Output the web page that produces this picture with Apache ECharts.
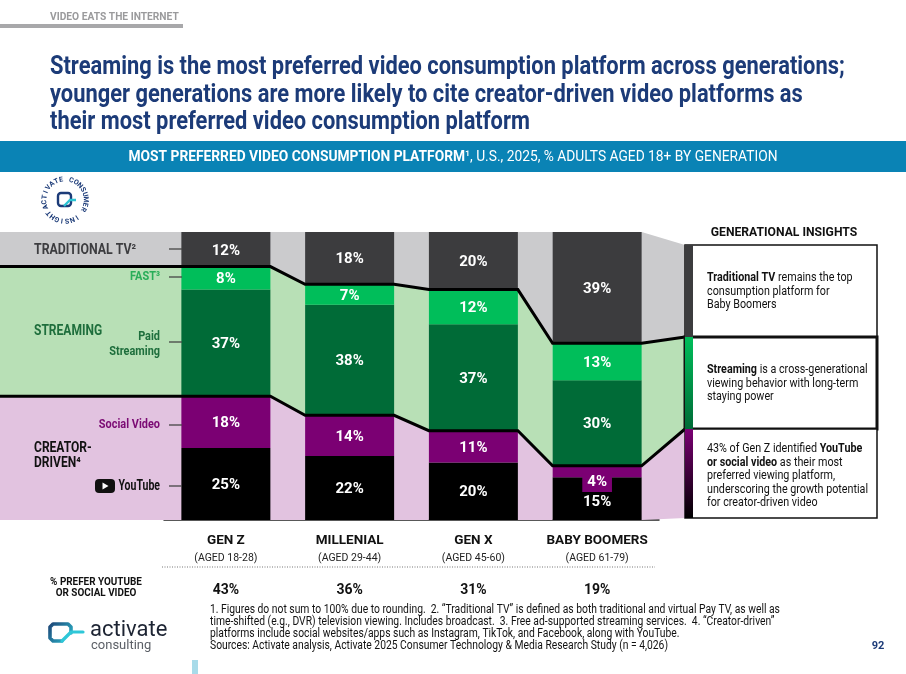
<!DOCTYPE html>
<html>
<head>
<meta charset="utf-8" />
<title>Most preferred video consumption platform</title>
<script src="https://cdn.jsdelivr.net/npm/echarts@6/dist/echarts.min.js"></script>
<style>html,body{margin:0;padding:0;background:#fff}</style>
</head>
<body>
<div id="main" style="width:906px;height:674px"></div>
<script>
// data
var generations = ['GEN Z', 'MILLENIAL', 'GEN X', 'BABY BOOMERS'];
var ageRanges = ['(AGED 18-28)', '(AGED 29-44)', '(AGED 45-60)', '(AGED 61-79)'];
var traditionalTV = [12, 18, 20, 39];
var fast = [8, 7, 12, 13];
var paidStreaming = [37, 38, 37, 30];
var socialVideo = [18, 14, 11, 4];
var youTube = [25, 22, 20, 15];
var preferYouTubeOrSocial = [43, 36, 31, 19];

var chart = echarts.init(document.getElementById('main'));
var FONT = 'Roboto';
var BAR_W = 89;
var BOX_X = 685, BOX_R = 877;
var BOX_EDGES = [245, 337, 429, 518]; // pixel tops/bottoms of the insight boxes
var navy = '#1c3b78';

// figures don't sum to 100, so each bar is scaled to full height
var totals = generations.map(function (g, i) {
  return traditionalTV[i] + fast[i] + paidStreaming[i] + socialVideo[i] + youTube[i];
});
function pct(v, i) { return v / totals[i] * 100; }
function bounds(i) {
  return [100, pct(totals[i] - traditionalTV[i], i), pct(socialVideo[i] + youTube[i], i), 0];
}

// bands behind the bars (gray / green / pink)
function bandItem(params, api) {
  var i = params.dataIndex, n = generations.length;
  var x0 = api.coord([i, 0])[0] - BAR_W / 2, x1 = x0 + BAR_W;
  var ys = bounds(i).map(function (v) { return api.coord([i, v])[1]; });
  var xe, ye;
  if (i < n - 1) {
    xe = api.coord([i + 1, 0])[0] - BAR_W / 2;
    ye = bounds(i + 1).map(function (v) { return api.coord([i + 1, v])[1]; });
  } else {
    xe = BOX_X; ye = BOX_EDGES;
  }
  var xs = i === 0 ? 0 : x0;
  var cols = ['#cbcbcd', '#b8e0b6', '#e2c3e0'];
  return {
    type: 'group',
    children: cols.map(function (c, k) {
      return {
        type: 'polygon',
        shape: { points: [[xs, ys[k]], [x1, ys[k]], [xe, ye[k]], [xe, ye[k + 1]], [x1, ys[k + 1]], [xs, ys[k + 1]]] },
        style: { fill: c }
      };
    })
  };
}

// the two thick black boundary lines, drawn once across the whole chart
function lineItem(params, api) {
  var n = generations.length;
  var kids = [1, 2].map(function (k) {
    var pts = [];
    for (var i = 0; i < n; i++) {
      var cx = api.coord([i, 0])[0];
      var y = api.coord([i, bounds(i)[k]])[1];
      if (i === 0) pts.push([0, y]);
      pts.push([cx - BAR_W / 2, y]);
      pts.push([cx + BAR_W / 2, y]);
    }
    pts.push([BOX_X, BOX_EDGES[k]]);
    return { type: 'polyline', shape: { points: pts }, style: { stroke: '#000', lineWidth: 3, fill: null, lineJoin: 'miter' } };
  });
  return { type: 'group', children: kids };
}

var segs = [
  { data: youTube, color: '#000000' },
  { data: socialVideo, color: '#7b0073' },
  { data: paidStreaming, color: '#006b37' },
  { data: fast, color: '#00be5a' },
  { data: traditionalTV, color: '#3c3c3e' }
];

var barSeries = segs.map(function (s, si) {
  return {
    type: 'bar',
    stack: 'all',
    barWidth: BAR_W,
    z: 2,
    itemStyle: { color: s.color },
    label: {
      show: true, position: 'inside', color: '#fff', offset: [0, 1.5],
      fontFamily: FONT, fontWeight: 'bold', fontSize: 15,
      formatter: function (p) { return s.data[p.dataIndex] + '%'; }
    },
    data: s.data.map(function (v, i) {
      var d = { value: pct(v, i) };
      if (i === 3 && si === 1) d.label = { backgroundColor: '#7b0073', padding: [3, 5, 1, 5], offset: [0, 11] };
      if (i === 3 && si === 0) d.label = { offset: [0, 4] };
      return d;
    })
  };
});

function T(x, y, text, o) {
  o = o || {};
  return {
    type: 'text', x: x, y: y, scaleX: o.sx || 1, z: 10,
    style: {
      text: text, fill: o.color || '#111',
      fontFamily: FONT, fontSize: o.size || 12, fontWeight: o.weight || 'normal',
      align: o.align || 'left', verticalAlign: 'middle',
      rich: o.rich
    }
  };
}
function L(x1, y1, x2, y2, c, w, dash) {
  return { type: 'line', z: 10, shape: { x1: x1, y1: y1, x2: x2, y2: y2 }, style: { stroke: c, lineWidth: w, lineDash: dash } };
}
function grad(x2, y2, c1, c2) {
  return new echarts.graphic.LinearGradient(0, 0, x2, y2, [{ offset: 0, color: c1 }, { offset: 1, color: c2 }]);
}

var g = [];
// header
g.push(T(50, 17, 'VIDEO EATS THE INTERNET', { size: 11, weight: 'bold', color: '#9a9a9c', sx: 0.93 }));
g.push({ type: 'rect', shape: { x: 0, y: 24, width: 183, height: 4 }, style: { fill: '#a8a8aa' } });
var titleLines = ['Streaming is the most preferred video consumption platform across generations;',
  'younger generations are more likely to cite creator-driven video platforms as',
  'their most preferred video consumption platform'];
titleLines.forEach(function (t, k) {
  g.push(T(50, 68 + k * 27.5, t, { size: 25, weight: 'bold', color: navy, sx: 0.875 }));
});
g.push({ type: 'rect', shape: { x: 0, y: 141, width: 906, height: 31 }, style: { fill: '#0a83b5' } });
g.push(T(453, 157, '{b|MOST PREFERRED VIDEO CONSUMPTION PLATFORM}{r|¹, U.S., 2025, % ADULTS AGED 18+ BY GENERATION}', {
  align: 'center', sx: 0.95, color: '#fff', size: 14.5,
  rich: {
    b: { fontFamily: FONT, fontSize: 14.5, fontWeight: 'bold', fill: '#fff', color: '#fff' },
    r: { fontFamily: FONT, fontSize: 14.5, fill: '#fff', color: '#fff' }
  }
}));

// consumer insight badge
var ring = 'ACTIVATE CONSUMER INSIGHT';
var bcx = 65, bcy = 200, br = 20.5;
for (var k = 0; k < ring.length; k++) {
  var a = (160 + k * 14.2) * Math.PI / 180;
  g.push({
    type: 'text', x: bcx + br * Math.cos(a), y: bcy + br * Math.sin(a), rotation: -(a + Math.PI / 2), z: 10,
    style: { text: ring[k], fill: navy, fontFamily: FONT, fontSize: 7, fontWeight: 'bold', align: 'center', verticalAlign: 'middle' }
  });
}
g.push({ type: 'rect', z: 10, shape: { x: 58, y: 193, width: 13, height: 13, r: 3 }, style: { fill: null, stroke: navy, lineWidth: 2.4 } });
g.push({ type: 'polyline', z: 11, shape: { points: [[64, 206], [70, 200], [76, 200]] }, style: { stroke: '#2cc3d3', lineWidth: 2.4, fill: null } });

// left labels and leader ticks
g.push(T(34, 250, 'TRADITIONAL TV²', { size: 14, weight: 'bold', color: '#3d3d40', sx: 0.88 }));
g.push(T(160, 277, 'FAST³', { size: 13, weight: 'bold', color: '#28ad58', align: 'right', sx: 0.84 }));
g.push(T(34, 331, 'STREAMING', { size: 14, weight: 'bold', color: '#1e6e3c', sx: 0.86 }));
g.push(T(160, 337, 'Paid', { size: 13, weight: 'bold', color: '#1e6e3c', align: 'right', sx: 0.84 }));
g.push(T(160, 352, 'Streaming', { size: 13, weight: 'bold', color: '#1e6e3c', align: 'right', sx: 0.84 }));
g.push(T(160, 425, 'Social Video', { size: 13, weight: 'bold', color: '#7b0a73', align: 'right', sx: 0.84 }));
g.push(T(34, 448, 'CREATOR-', { size: 14, weight: 'bold', color: '#111', sx: 0.86 }));
g.push(T(34, 463, 'DRIVEN⁴', { size: 14, weight: 'bold', color: '#111', sx: 0.86 }));
g.push({ type: 'rect', z: 10, shape: { x: 95, y: 479, width: 20, height: 14, r: 4 }, style: { fill: '#111' } });
g.push({ type: 'polygon', z: 11, shape: { points: [[102.5, 482.5], [102.5, 489.5], [108.5, 486]] }, style: { fill: '#fff' } });
g.push(T(160, 486, 'YouTube', { size: 15, weight: 'bold', color: '#111', align: 'right', sx: 0.7 }));
[249, 277, 342, 425, 486].forEach(function (y) { g.push(L(169, y, 182, y, '#444', 1.3)); });

// insight panel
g.push(T(784, 233, 'GENERATIONAL INSIGHTS', { size: 13.5, weight: 'bold', align: 'center', sx: 0.9 }));
var boxes = [
  { y0: 245, y1: 337, w: 1.5, strip: '#3c3c3e' },
  { y0: 337, y1: 429, w: 3, strip: grad(0, 1, '#00be5a', '#006b37') },
  { y0: 429, y1: 518, w: 1.5, strip: grad(0, 1, '#7b0073', '#000000') }
];
boxes.forEach(function (b) {
  g.push({ type: 'rect', z: 5, shape: { x: BOX_X, y: b.y0, width: BOX_R - BOX_X, height: b.y1 - b.y0 }, style: { fill: '#fff', stroke: '#111', lineWidth: b.w } });
  g.push({ type: 'rect', z: 6, shape: { x: BOX_X, y: b.y0, width: 8, height: b.y1 - b.y0 }, style: { fill: b.strip } });
});
var bold = { b: { fontFamily: FONT, fontSize: 12.8, fontWeight: 'bold', fill: '#111', color: '#111' } };
var boxText = [
  [278, '{b|Traditional TV} remains the top'], [291.5, 'consumption platform for'], [305, 'Baby Boomers'],
  [370, '{b|Streaming} is a cross-generational'], [383.5, 'viewing behavior with long-term'], [397, 'staying power'],
  [449, '43% of Gen Z identified {b|YouTube}'], [462.5, '{b|or social video} as their most'],
  [476, 'preferred viewing platform,'], [489.5, 'underscoring the growth potential'], [503, 'for creator-driven video']
];
boxText.forEach(function (t) { g.push(T(707, t[0], t[1], { size: 12.8, sx: 0.84, rich: bold })); });

// table row under the chart
g.push(L(162, 567, 655, 567, '#777', 1, [1, 1.5]));
g.push(T(96, 582, '% PREFER YOUTUBE', { size: 11, weight: 'bold', align: 'center', sx: 0.9 }));
g.push(T(96, 593, 'OR SOCIAL VIDEO', { size: 11, weight: 'bold', align: 'center', sx: 0.9 }));

// footnotes
var notes = ['1. Figures do not sum to 100% due to rounding.  2. \u201CTraditional TV\u201D is defined as both traditional and virtual Pay TV, as well as',
  'time-shifted (e.g., DVR) television viewing. Includes broadcast.  3. Free ad-supported streaming services.  4. \u201CCreator-driven\u201D',
  'platforms include social websites/apps such as Instagram, TikTok, and Facebook, along with YouTube.',
  'Sources: Activate analysis, Activate 2025 Consumer Technology & Media Research Study (n = 4,026)'];
notes.forEach(function (t, k) { g.push(T(210, 610 + k * 12, t, { size: 12, sx: 0.86 })); });
g.push(T(878, 646, '92', { size: 11, weight: 'bold', color: navy, align: 'center' }));

// activate logo
g.push({
  type: 'polyline', shape: { points: [[62, 641], [53, 641], [50, 638], [50, 627], [53, 624], [68, 624], [71, 627], [71, 633]] },
  style: { stroke: grad(1, 1, '#1b3a6e', '#2ec7d8'), lineWidth: 3.6, fill: null, lineJoin: 'round', lineCap: 'round' }
});
g.push({ type: 'polyline', shape: { points: [[62, 641], [71, 632], [83, 632]] }, style: { stroke: '#2ec7d8', lineWidth: 3.2, fill: null, lineCap: 'round', lineJoin: 'round' } });
g.push(T(90, 630, 'activate', { size: 22, color: '#1d2433' }));
g.push(T(91, 646, 'consulting', { size: 13, color: '#5b5f66' }));
g.push({ type: 'rect', shape: { x: 192, y: 660, width: 6, height: 14 }, style: { fill: '#a8dbe9' } });

var option = {
  backgroundColor: '#fff',
  animation: false,
  grid: { left: 164, width: 495, top: 232, height: 288 },
  xAxis: [{
    type: 'category', data: generations,
    axisLine: { lineStyle: { color: '#222', width: 1.5 } },
    axisTick: { show: false },
    axisLabel: {
      margin: 12, interval: 0,
      formatter: function (v, i) { return '{a|' + v + '}\n{b|' + ageRanges[i] + '}'; },
      rich: {
        a: { fontFamily: FONT, fontSize: 13.5, fontWeight: 'bold', color: '#111', lineHeight: 17 },
        b: { fontFamily: FONT, fontSize: 10.5, color: '#222', lineHeight: 19 }
      }
    }
  }, {
    type: 'category', position: 'bottom', offset: 58,
    data: preferYouTubeOrSocial.map(function (v) { return v + '%'; }),
    axisLine: { show: false }, axisTick: { show: false },
    axisLabel: { margin: 5, interval: 0, fontFamily: FONT, fontSize: 14, fontWeight: 'bold', color: '#111' }
  }],
  yAxis: { type: 'value', min: 0, max: 100, show: false },
  series: [{
    type: 'custom', z: 1, renderItem: bandItem, silent: true,
    data: generations.map(function (gn, i) { return [i, 0]; })
  }].concat(barSeries).concat([{
    type: 'custom', z: 3, renderItem: lineItem, silent: true,
    data: [[0, 0]]
  }]),
  graphic: g
};
chart.setOption(option);
</script>
</body>
</html>
